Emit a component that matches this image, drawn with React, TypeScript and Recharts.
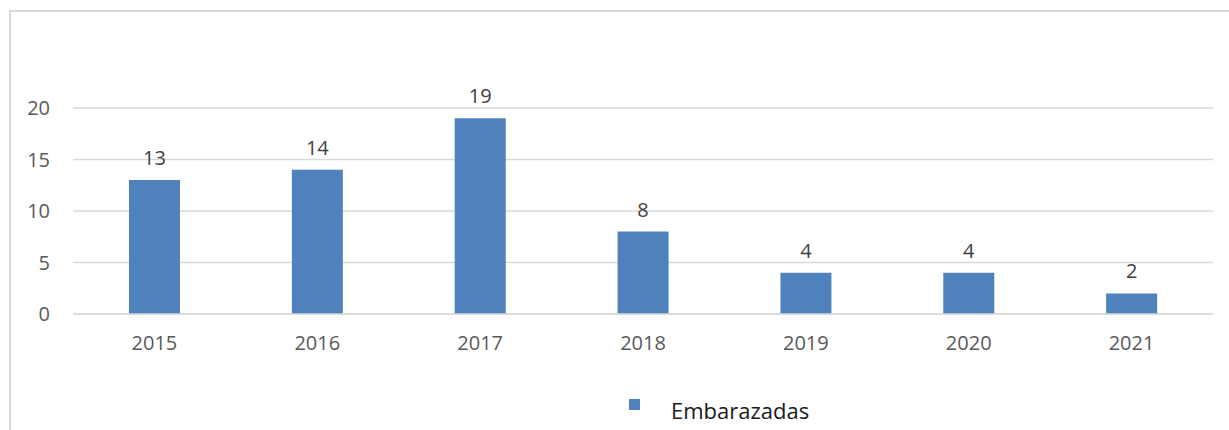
import React from 'react';
import { BarChart, Bar, XAxis, YAxis, CartesianGrid, LabelList, Legend } from 'recharts';

const years = ['2015', '2016', '2017', '2018', '2019', '2020', '2021'];
const embarazadas = [13, 14, 19, 8, 4, 4, 2];
const yTicks = [0, 5, 10, 15, 20];

const data = years.map((year, i) => ({ year, Embarazadas: embarazadas[i] }));

const FONT = '"Open Sans", "Liberation Sans", sans-serif';

// leyenda tipo Excel: cuadrito y texto separado
const renderLegend = () => (
  <div style={{ position: 'relative', height: 40, fontFamily: FONT }}>
    <div style={{ position: 'absolute', left: 629, top: 13, width: 11, height: 11, background: '#4f81bd' }} />
    <div style={{ position: 'absolute', left: 671, top: 10, fontSize: 22, color: '#1a1a1a', lineHeight: '28px' }}>
      Embarazadas
    </div>
  </div>
);

export default function App() {
  return (
    <div style={{ position: 'fixed', left: 0, top: 0, width: 1229, height: 430, background: '#fff', overflow: 'hidden' }}>
      <div
        style={{
          position: 'absolute', left: 9, top: 10, width: 1240, height: 440,
          borderTop: '2px solid #d9d9d9', borderLeft: '2px solid #d9d9d9'
        }}
      />
      <BarChart
        width={1229}
        height={430}
        data={data}
        margin={{ top: 108, right: 16, bottom: 36, left: 13 }}
        style={{ position: 'absolute', left: 0, top: 0 }}
      >
        <CartesianGrid vertical={false} stroke="#d9d9d9" strokeWidth={1.5} />
        <XAxis
          dataKey="year"
          height={40}
          axisLine={{ stroke: '#d9d9d9', strokeWidth: 1.5 }}
          tickLine={false}
          tickSize={0}
          tickMargin={22}
          tick={{ fill: '#595959', fontSize: 20, fontFamily: FONT }}
        />
        <YAxis
          width={60}
          domain={[0, 20]}
          ticks={yTicks}
          axisLine={false}
          tickLine={false}
          tickSize={0}
          tickMargin={23}
          tick={{ fill: '#595959', fontSize: 20, fontFamily: FONT }}
        />
        <Legend verticalAlign="bottom" align="left" content={renderLegend} wrapperStyle={{ left: 0, width: 1229, bottom: 4 }} />
        <Bar dataKey="Embarazadas" fill="#4f81bd" barSize={51} isAnimationActive={false}>
          <LabelList dataKey="Embarazadas" position="top" offset={15} fill="#404040" fontSize={20} fontFamily={FONT} />
        </Bar>
      </BarChart>
    </div>
  );
}
